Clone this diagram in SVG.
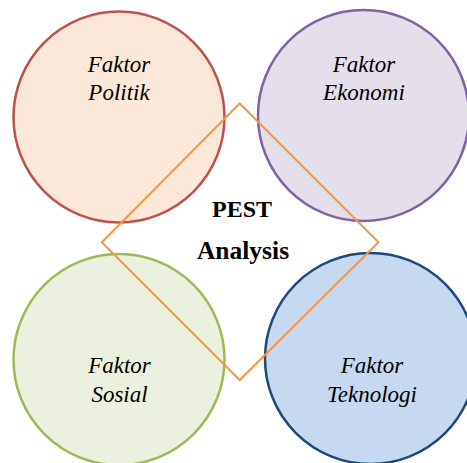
<svg xmlns="http://www.w3.org/2000/svg" width="467" height="463" viewBox="0 0 467 463">
<style>
.c{stroke-width:2.5}
.t{font-family:"Liberation Serif","Times New Roman",serif;font-style:italic;font-size:23px;fill:#000;text-anchor:middle}
.b{font-family:"Liberation Serif","Times New Roman",serif;font-weight:bold;font-size:24px;fill:#000;text-anchor:middle}
</style>
<rect width="467" height="463" fill="#fff"/>
<g id="politik">
<circle class="c" cx="119" cy="117" r="105.5" fill="#FCE8D9" stroke="#C0504D"/>
<text class="t" x="119" y="72">Faktor</text>
<text class="t" x="119" y="100">Politik</text>
</g>
<g id="ekonomi">
<circle class="c" cx="363.5" cy="115.5" r="105.5" fill="#E5DFEC" stroke="#8064A2"/>
<text class="t" x="364" y="72">Faktor</text>
<text class="t" x="364" y="100">Ekonomi</text>
</g>
<g id="sosial">
<circle class="c" cx="119" cy="359.5" r="105.5" fill="#EBF1DE" stroke="#9BBB59"/>
<text class="t" x="119.5" y="373">Faktor</text>
<text class="t" x="119.5" y="401.5">Sosial</text>
</g>
<g id="teknologi">
<circle class="c" cx="370.5" cy="358.5" r="105.5" fill="#C6D9F1" stroke="#1F497D"/>
<text class="t" x="372" y="373">Faktor</text>
<text class="t" x="372" y="401.5">Teknologi</text>
</g>
<g id="pest">
<polygon points="239.7,103.5 378.5,242.3 239.7,380 101.8,242.3" fill="none" stroke="#F79646" stroke-width="2"/>
<text class="b" x="242" y="216.5">PEST</text>
<text class="b" x="243" y="259" style="font-size:25.5px">Analysis</text>
</g>
</svg>
